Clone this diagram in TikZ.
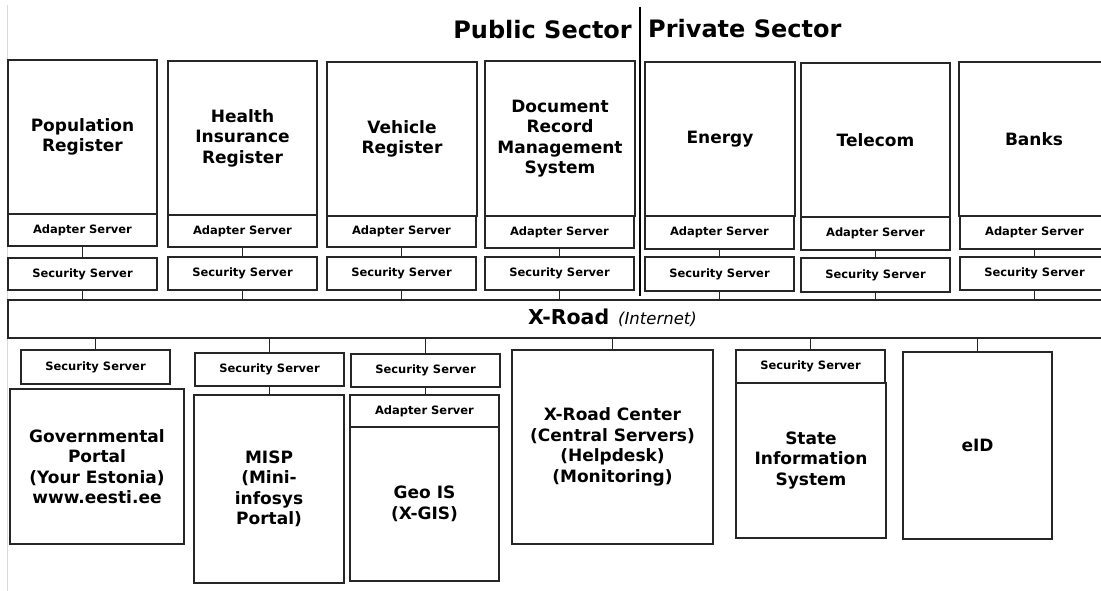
\documentclass[tikz,border=0pt]{standalone}
\usepackage{fontspec}
\setmainfont{DejaVu Sans}
\newcommand\mybox[7]{\node[#1, minimum width={#4-#2}, minimum height={#5-#3}] (#6) at ({(#2+#4)/2},{(#3+#5)/2}) {#7};}
\definecolor{lc}{HTML}{262626}
\begin{document}
\begin{tikzpicture}[x=1pt,y=-1pt,
  box/.style={draw=lc, line width=1.4, inner sep=0, align=center, font=\bfseries\fontsize{17}{20.5}\selectfont},
  srv/.style={draw=lc, line width=1.4, inner sep=0, fill=white, font=\bfseries\fontsize{11.5}{13}\selectfont},
  conn/.style={draw=lc, line width=1.4},
  head/.style={inner sep=0, font=\bfseries\fontsize{24}{28}\selectfont}]
\clip (0,0) rectangle (1101,591);
\fill[white] (0,0) rectangle (1101,591);
\coordinate (lt) at (7,5);
\coordinate (lb) at (7,591);
\draw[black!15, line width=1] (lt) -- (lb);
% headings
\node[head, anchor=base east] (pub) at (632,39) {Public Sector};
\node[head, anchor=base west] (pri) at (648,38) {Private Sector};
\coordinate (dt) at (640,7);
\coordinate (db) at (640,296);
\draw[black, line width=2.6] (dt) -- (db);
% top row
\mybox{box}{8}{60}{157}{214}{pop}{Population\\Register}
\mybox{srv}{8}{214}{157}{246}{popa}{Adapter Server}
\mybox{srv}{8}{258}{157}{290}{pops}{Security Server}
\mybox{box}{168}{61}{317}{215}{hea}{Health\\Insurance\\Register}
\mybox{srv}{168}{215}{317}{247}{heaa}{Adapter Server}
\mybox{srv}{168}{257}{317}{290}{heas}{Security Server}
\mybox{box}{327}{62}{477}{216}{veh}{Vehicle\\Register}
\mybox{srv}{327}{216}{476}{247}{veha}{Adapter Server}
\mybox{srv}{327}{257}{476}{290}{vehs}{Security Server}
\mybox{box}{485}{61}{635}{216}{doc}{Document\\Record\\Management\\System}
\mybox{srv}{485}{216}{634}{248}{doca}{Adapter Server}
\mybox{srv}{485}{257}{634}{290}{docs}{Security Server}
\mybox{box}{645}{62}{795}{216}{ene}{Energy}
\mybox{srv}{645}{216}{794}{249}{enea}{Adapter Server}
\mybox{srv}{645}{257}{794}{291}{enes}{Security Server}
\mybox{box}{801}{63}{950}{217}{tel}{Telecom}
\mybox{srv}{801}{217}{950}{250}{tela}{Adapter Server}
\mybox{srv}{801}{258}{950}{292}{tels}{Security Server}
\mybox{box}{959}{62}{1109}{216}{ban}{Banks}
\mybox{srv}{960}{216}{1109}{249}{bana}{Adapter Server}
\mybox{srv}{960}{257}{1109}{290}{bans}{Security Server}
% X-Road bar
\mybox{srv}{8}{300}{1112}{338}{road}{}
\node[inner sep=0, anchor=base] (roadlbl) at (612.5,324) {{\bfseries\fontsize{20.5}{23}\selectfont X-Road}\hspace{9pt}{\itshape\fontsize{16.5}{19}\selectfont(Internet)}};
% bottom row
\mybox{srv}{21}{350}{170}{384}{govs}{Security Server}
\mybox{box}{10}{389}{184}{544}{gov}{Governmental\\Portal\\(Your Estonia)\\www.eesti.ee}
\mybox{srv}{195}{353}{344}{386}{miss}{Security Server}
\mybox{box}{194}{395}{344}{583}{misp}{MISP\\(Mini-\\infosys\\Portal)}
\mybox{srv}{351}{354}{500}{387}{geos}{Security Server}
\mybox{box}{350}{427}{499}{581}{geo}{Geo IS\\(X-GIS)}
\mybox{srv}{350}{395}{499}{427}{geoa}{Adapter Server}
\mybox{box}{512}{350}{713}{544}{xrc}{X-Road Center\\(Central Servers)\\(Helpdesk)\\(Monitoring)}
\mybox{box}{736}{383}{886}{538}{sis}{State\\Information\\System}
\mybox{srv}{736}{350}{885}{383}{siss}{Security Server}
\mybox{box}{903}{352}{1052}{539}{eid}{eID}
% connectors top
\foreach \a/\s in {popa/pops,heaa/heas,veha/vehs,doca/docs,enea/enes,tela/tels,bana/bans}{
  \draw[conn] (\a.south) -- (\a.south |- \s.north);
  \draw[conn] (\s.south) -- (\s.south |- road.north);
}
% connectors bottom
\foreach \n in {govs,miss,geos,xrc,siss,eid}{
  \draw[conn] (\n.north) -- (\n.north |- road.south);
}
\draw[conn] (miss.south) -- (miss.south |- misp.north);
\draw[conn] (geos.south) -- (geos.south |- geoa.north);
\end{tikzpicture}
\end{document}
